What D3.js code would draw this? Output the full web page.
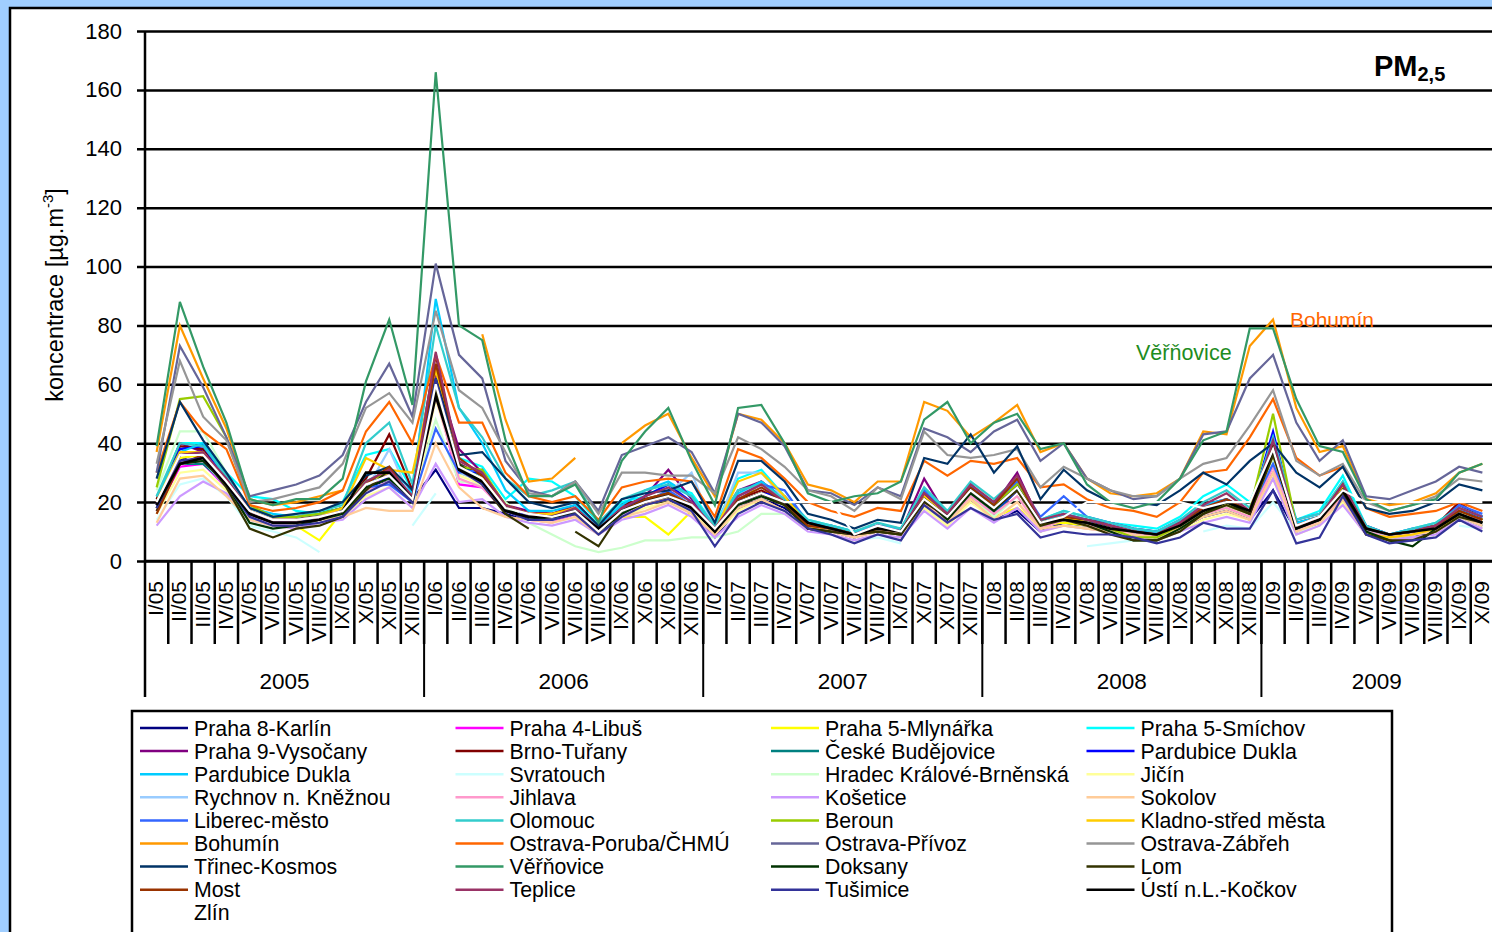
<!DOCTYPE html>
<html>
<head>
<meta charset="utf-8">
<script src="https://cdn.jsdelivr.net/npm/d3@7"></script>
<style>
body { margin: 0; background: #a0ceff; overflow: hidden; }
text { font-family: "Liberation Sans", Arial, sans-serif; }
</style>
</head>
<body>
<script>
// monthly PM2.5 averages, I/2005 - X/2009
var months = ["I/05","II/05","III/05","IV/05","V/05","VI/05","VII/05","VIII/05","IX/05","X/05","XI/05","XII/05",
    "I/06","II/06","III/06","IV/06","V/06","VI/06","VII/06","VIII/06","IX/06","X/06","XI/06","XII/06",
    "I/07","II/07","III/07","IV/07","V/07","VI/07","VII/07","VIII/07","IX/07","X/07","XI/07","XII/07",
    "I/08","II/08","III/08","IV/08","V/08","VI/08","VII/08","VIII/08","IX/08","X/08","XI/08","XII/08",
    "I/09","II/09","III/09","IV/09","V/09","VI/09","VII/09","VIII/09","IX/09","X/09"];
var years = ["2005", "2006", "2007", "2008", "2009"];
var yearLength = [12, 12, 12, 12, 10];
var yTicks = [0, 20, 40, 60, 80, 100, 120, 140, 160, 180];

var prahaKarlin = [19,34,38,27,16,13,13,15,17,25,27,21, 31,18,18,16,14,15,17,10,17,20,22,18, 8,18,21,18,12,10,8,11,9,19,14,21, 14,17,10,13,12,11,9,8,11,15,17,14, 24,10,13,22,10,7,8,10,15,12];
var prahaLibus = [17,32,33,25,15,12,12,14,16,24,30,20, 58,26,25,17,14,13,16,10,16,19,24,18, 9,20,27,19,12,10,8,10,9,20,12,22, 16,24,12,15,13,12,10,9,12,17,21,16, 30,11,14,21,10,8,9,11,18,13];
var prahaMlynarka = [18,35,36,26,16,14,12,7,17,26,29,21, 57,30,27,17,14,15,16,10,15,15,9,17, 10,19,27,21,12,10,8,11,10,20,13,21, 15,18,12,13,12,10,9,8,12,16,18,15, 28,11,14,24,10,8,9,11,16,13];
var prahaSmichov = [21,40,40,30,22,21,17,16,20,36,38,24, 65,35,32,21,28,27,22,13,20,22,26,23, 12,28,31,22,14,12,10,12,11,24,16,25, 20,27,14,17,15,13,12,11,15,22,26,20, 38,14,17,29,12,9,11,13,18,15];
var prahaVysocany = [20,40,37,28,17,14,14,16,18,26,29,22, 64,38,30,19,17,16,19,11,18,22,31,21, 11,24,27,21,13,12,9,12,10,28,15,26, 19,30,13,16,14,13,11,10,13,19,21,17, 40,11,15,26,12,9,10,12,19,15];
var brnoTurany = [21,39,38,29,17,14,14,16,18,28,43,24, 70,33,29,19,16,16,18,11,19,21,23,19, 12,21,24,20,13,11,10,12,11,22,16,25, 20,27,14,15,14,12,10,9,13,18,20,17, 41,13,15,25,11,9,10,12,20,14];
var ceskeBudejovice = [18,33,33,26,16,13,13,14,16,24,27,20, 60,33,28,18,15,15,17,10,17,19,22,19, 10,20,23,19,12,11,9,11,10,21,15,24, 16,24,12,14,13,11,9,8,12,16,19,16, 35,12,14,22,10,8,9,10,16,13];
var pardubiceDukla1 = [19,38,39,28,17,13,14,15,17,27,28,21, 62,31,30,18,15,15,17,10,17,22,26,20, 10,19,23,22,13,11,8,12,10,23,14,24, 17,24,12,14,13,12,9,9,12,18,20,17, 44,12,14,25,10,8,10,11,17,15];
var pardubiceDukla2 = [22,37,40,28,18,16,15,16,18,27,31,23, 89,52,40,24,17,17,19,12,19,24,27,22, 11,23,27,21,13,12,10,12,11,24,16,26, 19,27,13,16,14,12,10,10,13,19,21,17, 42,13,15,27,11,9,10,12,18,15];
var svratouch = [14,26,28,22,12,10,8,3,null,null,null,12, 23,null,null,null,null,null,null,null,null,null,null,null, null,null,null,null,null,null,7,8,6,null,null,null, null,null,null,null,5,6,7,7,null,10,12,11, 20,10,12,null,null,null,null,null,12,11];
var hradecKralove = [24,44,44,30,17,14,14,15,17,24,27,22, 48,27,26,20,13,9,5,3,4.5,7,7,8, 8,10,16,16,11,10,8,10,9,18,13,22, 15,22,12,14,12,11,9,8,11,16,18,15, 34,11,13,22,10,8,9,10,15,12];
var jicin = [16,30,31,24,14,12,11,13,15,22,25,18, 55,29,26,17,14,13,15,9,15,18,20,17, 9,17,21,17,11,9,7,9,8,18,12,20, 14,20,10,12,11,10,8,7,10,14,16,14, 28,9,12,20,9,7,8,9,14,11];
var rychnov = [18,33,34,25,15,12,12,14,16,24,38,20, 57,30,27,17,15,14,16,10,16,20,23,30, 10,30,30,21,12,10,9,11,10,21,14,23, 17,25,12,14,13,11,10,9,12,17,19,16, 36,12,14,24,10,8,9,11,16,13];
var jihlava = [17,33,34,26,16,13,13,15,16,24,27,20, 56,28,25,17,15,14,16,10,16,19,22,18, 10,19,22,19,12,10,8,11,9,20,14,22, 16,22,11,14,12,11,9,8,11,16,18,15, 32,11,13,22,10,8,9,10,16,13];
var kosetice = [12,22,27,23,14,12,11,13,14,21,25,18, 33,20,21,15,13,12,14,9,14,16,19,15, 8,15,19,16,10,9,7,9,8,17,11,18, 13,18,10,12,11,10,8,7,10,13,15,13, 28,9,12,19,9,7,8,9,14,11];
var sokolov = [13,28,29,22,14,12,12,14,15,18,17,17, 40,25,18,15,14,13,15,9,15,17,20,16, 9,18,21,17,11,10,8,10,9,19,13,21, 14,20,11,12,11,10,9,8,11,15,17,14, 30,10,13,21,9,8,9,10,15,12];
var liberec = [18,36,37,27,16,13,13,15,17,25,26,20, 45,30,31,17,14,14,17,10,16,20,24,19, 10,22,26,24,13,11,9,12,10,24,15,26, 19,27,15,22,15,13,11,10,14,18,21,17, 33,14,16,25,12,9,11,12,19,16];
var olomouc = [22,40,39,29,18,15,15,17,19,40,47,26, 80,52,42,28,22,24,27,13,21,24,26,22, 12,24,26,21,14,12,10,13,11,25,17,27, 21,28,14,17,15,13,11,10,14,20,24,18, 42,14,16,27,12,9,11,13,18,15];
var beroun = [25,55,56,42,19,15,15,16,18,27,30,22, 66,32,31,19,16,15,17,10,17,21,23,19, 10,20,23,19,12,11,9,11,10,21,15,24, 19,26,13,15,13,11,8,8,12,17,20,17, 50,12,15,25,11,9,10,12,17,14];
var kladno = [20,37,37,27,17,14,14,15,18,35,31,30, 65,31,28,19,16,16,18,10,17,19,21,19, 10,27,30,22,12,11,9,11,10,22,15,24, 18,24,12,15,13,11,10,9,12,17,19,16, 36,12,14,25,9,8,9,11,15,null];
var bohumin = [37,80,62,45,21,19,20,22,24,null,null,null, null,null,77,48,27,28,35,null,40,46,50,35, 22,50,48,40,26,24,20,27,27,54,51,42, 47,53,37,40,28,23,22,23,28,44,43,73, 82,52,37,39,21,19,20,23,30,33];
var ostravaPoruba = [30,54,44,38,19,17,18,20,24,44,54,40, 70,47,47,30,22,20,22,14,25,27,28,27, 15,38,35,28,20,17,15,18,17,34,29,34, 33,35,25,26,21,18,17,15,20,30,31,42, 55,35,29,32,18,15,16,17,20,17];
var ostravaPrivoz = [30,73,59,42,22,24,26,29,36,54,67,49, 101,70,62,34,24,22,27,17,36,39,42,37, 23,50,47,39,24,23,19,25,22,45,42,37, 44,48,34,40,28,24,21,22,28,43,44,62, 70,47,34,41,22,21,24,27,32,30];
var ostravaZabreh = [33,68,49,41,20,21,23,25,33,52,57,47, 85,58,52,37,23,22,27,16,30,30,29,29, 23,42,38,32,24,22,17,25,21,44,36,35, 36,38,25,32,28,24,22,22,28,33,35,46, 58,34,29,33,20,17,19,22,28,27];
var trinec = [28,54,41,30,18,15,16,17,20,29,32,24, 62,36,37,28,20,18,20,12,21,23,24,27, 13,34,34,27,16,14,11,14,13,35,33,43, 30,39,21,31,24,20,20,19,24,30,26,34, 40,30,25,32,18,16,17,20,26,24];
var vernovice = [39,88,66,47,21,19,21,21,28,61,82,53, 166,80,75,41,22,22,26,13,34,44,52,34, 19,52,53,40,23,20,22,23,27,48,54,40, 47,50,38,40,26,20,18,20,28,41,44,79, 79,55,39,37,21,17,19,21,30,33];
var doksany = [18,33,34,26,13,11,12,14,16,25,28,21, 60,32,27,18,14,15,16,10,16,20,23,18, 10,19,22,19,11,10,9,10,9,21,14,23, 17,25,13,14,13,10,7,7,11,16,20,16, 38,11,14,24,10,7,5,11,16,13];
var lom = [17,33,35,25,11,8,11,12,15,24,31,20, 58,33,26,16,11,null,10,5,17,21,22,19, 10,20,23,19,11,10,9,10,9,20,15,24, 18,24,12,14,12,9,7,7,10,16,19,16, 36,12,14,23,9,7,7,10,15,13];
var most = [16,33,36,27,16,13,13,14,17,26,32,21, 67,35,29,19,16,15,17,10,17,21,23,19, 11,21,25,20,12,11,9,11,10,23,16,25, 19,28,13,15,14,12,10,9,13,18,21,17, 39,12,15,26,11,9,10,12,17,14];
var teplice = [19,36,37,28,17,14,14,15,17,27,31,22, 71,34,30,19,16,15,18,11,18,22,25,20, 11,22,26,20,13,11,9,12,10,23,16,26, 20,29,14,16,14,12,10,9,13,19,23,17, 41,12,15,26,11,9,10,12,18,15];
var tusimice = [18,34,35,26,15,12,12,13,15,23,27,20, 62,31,26,17,14,14,16,9,15,19,21,17, 5,16,20,17,11,9,6,9,7,19,13,18, 14,16,8,10,9,9,8,6,8,13,11,11, 24,6,8,22,9,6,7,8,14,10];
var ustiKockov = [19,33,35,26,16,13,13,14,17,30,30,21, 56,31,27,17,15,15,17,11,17,20,22,18, 10,20,23,20,13,11,9,11,10,21,15,24, 18,25,13,14,13,11,10,9,12,17,20,17, 38,11,14,24,11,9,10,11,16,13];
var zlin = [20,36,36,27,17,14,14,15,17,26,29,21, 60,32,28,18,16,15,17,10,17,20,22,19, 11,20,23,20,20,20,9,12,10,21,15,24, 18,25,13,15,20,20,20,20,20,18,20,20, 38,12,15,24,20,20,20,20,20,20];

var series = [
    {name: "Praha 8-Karlín", color: "#000080", values: prahaKarlin},
    {name: "Praha 4-Libuš", color: "#ff00ff", values: prahaLibus},
    {name: "Praha 5-Mlynářka", color: "#ffff00", values: prahaMlynarka},
    {name: "Praha 5-Smíchov", color: "#00ffff", values: prahaSmichov},
    {name: "Praha 9-Vysočany", color: "#800080", values: prahaVysocany},
    {name: "Brno-Tuřany", color: "#800000", values: brnoTurany},
    {name: "České Budějovice", color: "#008080", values: ceskeBudejovice},
    {name: "Pardubice Dukla", color: "#0000ff", values: pardubiceDukla1},
    {name: "Pardubice Dukla", color: "#00ccff", values: pardubiceDukla2},
    {name: "Svratouch", color: "#ccffff", values: svratouch},
    {name: "Hradec Králové-Brněnská", color: "#ccffcc", values: hradecKralove},
    {name: "Jičín", color: "#ffff99", values: jicin},
    {name: "Rychnov n. Kněžnou", color: "#99ccff", values: rychnov},
    {name: "Jihlava", color: "#ff99cc", values: jihlava},
    {name: "Košetice", color: "#cc99ff", values: kosetice},
    {name: "Sokolov", color: "#ffcc99", values: sokolov},
    {name: "Liberec-město", color: "#3366ff", values: liberec},
    {name: "Olomouc", color: "#33cccc", values: olomouc},
    {name: "Beroun", color: "#99cc00", values: beroun},
    {name: "Kladno-střed města", color: "#ffcc00", values: kladno},
    {name: "Bohumín", color: "#ff9900", values: bohumin},
    {name: "Ostrava-Poruba/ČHMÚ", color: "#ff6600", values: ostravaPoruba},
    {name: "Ostrava-Přívoz", color: "#666699", values: ostravaPrivoz},
    {name: "Ostrava-Zábřeh", color: "#969696", values: ostravaZabreh},
    {name: "Třinec-Kosmos", color: "#003366", values: trinec},
    {name: "Věřňovice", color: "#339966", values: vernovice},
    {name: "Doksany", color: "#003300", values: doksany},
    {name: "Lom", color: "#333300", values: lom},
    {name: "Most", color: "#993300", values: most},
    {name: "Teplice", color: "#993366", values: teplice},
    {name: "Tušimice", color: "#333399", values: tusimice},
    {name: "Ústí n.L.-Kočkov", color: "#000000", values: ustiKockov},
    {name: "Zlín", color: "#ffffff", values: zlin}
];

var width = 1492, height = 932;
var plotLeft = 145, plotRight = 1494, plotTop = 31, plotBottom = 561;

var svg = d3.select("body").append("svg").attr("width", width).attr("height", height);

svg.append("rect")
    .attr("width", width).attr("height", height)
    .attr("fill", "#a0ceff");
svg.append("rect")
    .attr("x", 10).attr("y", 8)
    .attr("width", 1520).attr("height", 960)
    .attr("fill", "white")
    .attr("stroke", "black")
    .attr("stroke-width", 2.5);

var x = d3.scaleBand().domain(months).range([plotLeft, plotRight]);
var y = d3.scaleLinear().domain([0, 180]).range([plotBottom, plotTop]);

// horizontal grid + y ticks
var yAxis = svg.append("g")
    .attr("transform", "translate(" + plotLeft + ",0)")
    .call(d3.axisLeft(y).tickValues(yTicks).tickSize(8).tickPadding(15));
yAxis.select(".domain").remove();
yAxis.selectAll(".tick line")
    .attr("x2", plotRight - plotLeft)
    .attr("x1", -8)
    .attr("stroke", "black")
    .attr("stroke-width", 2.5);
yAxis.selectAll(".tick text")
    .attr("font-size", 22)
    .attr("fill", "black")
    .style("font-family", "'Liberation Sans', Arial, sans-serif");

svg.append("text")
    .attr("transform", "translate(63,295) rotate(-90)")
    .attr("text-anchor", "middle")
    .attr("font-size", 23.5)
    .html('koncentrace [µg.m<tspan dy="-10" font-size="15">-3</tspan><tspan dy="10">]</tspan>');

// series
var line = d3.line()
    .defined(function (d) { return d != null; })
    .x(function (d, i) { return x(months[i]) + x.bandwidth() / 2; })
    .y(function (d) { return y(d); });

svg.append("g")
    .attr("class", "lines")
    .selectAll("path")
    .data(series)
    .enter().append("path")
    .attr("fill", "none")
    .attr("stroke", function (d) { return d.color; })
    .attr("stroke-width", function (d) { return d.color == "#000000" ? 2.6 : 2.2; })
    .attr("stroke-linejoin", "miter")
    .attr("d", function (d) { return line(d.values); });

// left axis line and category axis
svg.append("line")
    .attr("x1", plotLeft).attr("x2", plotLeft)
    .attr("y1", plotTop).attr("y2", 697)
    .attr("stroke", "black").attr("stroke-width", 2.5);
svg.append("line")
    .attr("x1", plotLeft).attr("x2", plotRight)
    .attr("y1", plotBottom).attr("y2", plotBottom)
    .attr("stroke", "black").attr("stroke-width", 2.5);

var monthG = svg.append("g").attr("class", "months");
monthG.selectAll("line")
    .data(months.slice(1))
    .enter().append("line")
    .attr("x1", function (d) { return x(d); })
    .attr("x2", function (d) { return x(d); })
    .attr("y1", plotBottom)
    .attr("y2", 644)
    .attr("stroke", "black")
    .attr("stroke-width", 2.5);
monthG.selectAll("text")
    .data(months)
    .enter().append("text")
    .attr("transform", function (d) {
        return "translate(" + (x(d) + x.bandwidth() / 2 - 1) + ",581) rotate(-90)";
    })
    .attr("text-anchor", "end")
    .attr("dy", "0.36em")
    .attr("font-size", 21)
    .text(function (d) { return d; });

var yearStart = [];
var acc = 0;
yearLength.forEach(function (n) { yearStart.push(acc); acc += n; });

var yearG = svg.append("g").attr("class", "years");
yearG.selectAll("line")
    .data(yearStart.slice(1))
    .enter().append("line")
    .attr("x1", function (d) { return x(months[d]); })
    .attr("x2", function (d) { return x(months[d]); })
    .attr("y1", plotBottom)
    .attr("y2", 697)
    .attr("stroke", "black")
    .attr("stroke-width", 2);
yearG.selectAll("text")
    .data(years)
    .enter().append("text")
    .attr("x", function (d, i) {
        var a = x(months[yearStart[i]]);
        var b = i < years.length - 1 ? x(months[yearStart[i + 1]]) : 1492;
        return (a + b) / 2;
    })
    .attr("y", 689)
    .attr("text-anchor", "middle")
    .attr("font-size", 22.5)
    .text(function (d) { return d; });

// title and labels
var title = svg.append("text")
    .attr("x", 1374).attr("y", 76)
    .attr("font-size", 29)
    .attr("font-weight", "bold");
title.append("tspan").text("PM");
title.append("tspan").attr("dy", 5).attr("font-size", 20).text("2,5");

svg.append("text")
    .attr("x", 1290).attr("y", 327)
    .attr("font-size", 21)
    .attr("fill", "#ff6600")
    .text("Bohumín");
svg.append("text")
    .attr("x", 1136).attr("y", 360)
    .attr("font-size", 21.5)
    .attr("fill", "#1e8c1e")
    .text("Věřňovice");

// legend
var legend = svg.append("g").attr("class", "legend");
legend.append("rect")
    .attr("x", 132).attr("y", 711)
    .attr("width", 1260).attr("height", 240)
    .attr("fill", "white")
    .attr("stroke", "black")
    .attr("stroke-width", 2.5);

var item = legend.selectAll(".item")
    .data(series)
    .enter().append("g")
    .attr("class", "item")
    .attr("transform", function (d, i) {
        return "translate(" + (140 + (i % 4) * 315.5) + "," + (728 + Math.floor(i / 4) * 23.1) + ")";
    });
item.append("line")
    .attr("x1", 0).attr("x2", 48)
    .attr("stroke", function (d) { return d.color; })
    .attr("stroke-width", 2.5);
item.append("text")
    .attr("x", 54)
    .attr("dy", "0.36em")
    .attr("font-size", 21.3)
    .text(function (d) { return d.name; });
</script>
</body>
</html>
